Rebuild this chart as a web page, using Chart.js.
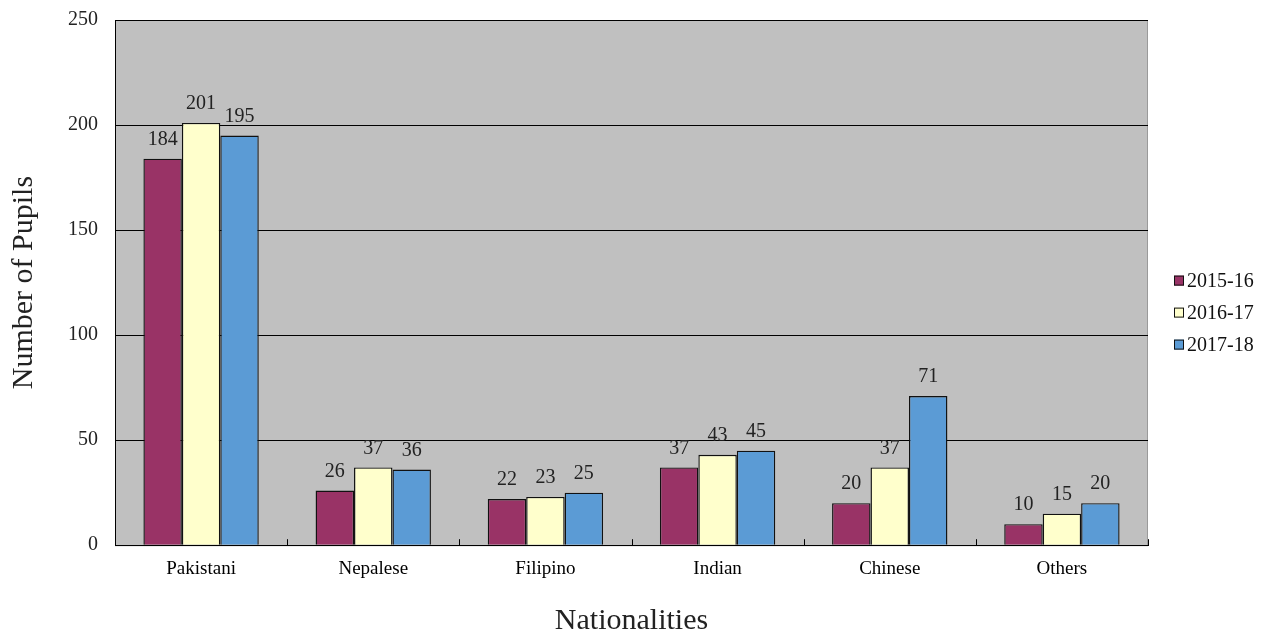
<!DOCTYPE html>
<html>
<head>
<meta charset="utf-8">
<script src="https://cdn.jsdelivr.net/npm/chart.js@4"></script>
<style>
  html, body { margin: 0; padding: 0; background: #fff; }
  #wrap { width: 1266px; height: 639px; }
</style>
</head>
<body>
<div id="wrap"><canvas id="pupilsChart"></canvas></div>
<script>
// categories and values
const nationalities = ['Pakistani', 'Nepalese', 'Filipino', 'Indian', 'Chinese', 'Others'];
const years = ['2015-16', '2016-17', '2017-18'];
const y2015 = [184, 26, 22, 37, 20, 10];
const y2016 = [201, 37, 23, 43, 37, 15];
const y2017 = [195, 36, 25, 45, 71, 20];
const yTicks = [0, 50, 100, 150, 200, 250];
const colors = ['#993366', '#ffffcc', '#5b9bd5'];

const FONT = "'Liberation Serif', 'DejaVu Serif', serif";

// gray plot area, category ticks, value labels and legend
const plotBg = {
    id: 'plotBg',
    beforeDraw(chart) {
        const { ctx, chartArea: a } = chart;
        ctx.save();
        ctx.fillStyle = '#c0c0c0';
        ctx.fillRect(a.left, a.top, a.right - a.left, a.bottom - a.top);
        ctx.strokeStyle = '#9a9a9a';
        ctx.lineWidth = 1;
        ctx.strokeRect(a.left + 0.5, a.top + 0.5, a.right - a.left - 1, a.bottom - a.top);
        ctx.restore();
    },
    afterDatasetsDraw(chart) {
        const { ctx, chartArea: a } = chart;
        ctx.save();
        ctx.strokeStyle = '#000';
        ctx.lineWidth = 1;
        const step = (a.right - a.left) / nationalities.length;
        for (let i = 1; i <= nationalities.length; i++) {
            const px = Math.round(a.left + step * i) + 0.5;
            ctx.beginPath();
            ctx.moveTo(px, a.bottom);
            ctx.lineTo(px, a.bottom - 6);
            ctx.stroke();
        }
        // value labels
        ctx.fillStyle = '#222';
        ctx.font = '20px ' + FONT;
        ctx.textAlign = 'center';
        ctx.textBaseline = 'bottom';
        chart.data.datasets.forEach((ds, i) => {
            chart.getDatasetMeta(i).data.forEach((bar, j) => {
                ctx.fillText(ds.data[j], bar.x, bar.y - 9);
            });
        });
        // legend
        const lx = a.right + 26;
        const mid = (a.top + a.bottom) / 2 + 30;
        ctx.textAlign = 'left';
        ctx.textBaseline = 'middle';
        ctx.font = '20px ' + FONT;
        years.forEach((yr, i) => {
            const cy = mid + (i - 1) * 32;
            ctx.fillStyle = colors[i];
            ctx.fillRect(lx, cy - 5, 10, 10);
            ctx.strokeStyle = '#111';
            ctx.strokeRect(lx + 0.5, cy - 4.5, 9, 9);
            ctx.fillStyle = '#111';
            ctx.fillText(yr, lx + 13, cy + 1);
        });
        ctx.restore();
    }
};

const data = {
    labels: nationalities,
    datasets: [y2015, y2016, y2017].map((vals, i) => ({
        label: years[i],
        data: vals,
        backgroundColor: colors[i],
        borderColor: '#111', borderWidth: 1.4, borderSkipped: 'bottom',
        categoryPercentage: 0.67, barPercentage: 1.0
    }))
};

const options = {
    responsive: true,
    maintainAspectRatio: false,
    animation: false,
    layout: { padding: { top: 6, right: 118, left: 6, bottom: 0 } },
    scales: {
        x: {
            grid: { display: false, drawTicks: false },
            border: { color: '#000', width: 1 },
            ticks: { color: '#000', padding: 12, font: { family: FONT, size: 19 } },
            title: {
                display: true, text: 'Nationalities', color: '#222',
                padding: { top: 11, bottom: 0 }, font: { family: FONT, size: 30 }
            }
        },
        y: {
            min: 0, max: 250,
            afterBuildTicks(axis) { axis.ticks = yTicks.map(v => ({ value: v })); },
            grid: { color: '#000', lineWidth: 1, drawTicks: true, tickLength: 9, tickColor: 'rgba(0,0,0,0)' },
            border: { color: '#000', width: 1 },
            ticks: { color: '#222', padding: 8, font: { family: FONT, size: 20 } },
            title: {
                display: true, text: 'Number of Pupils', color: '#222',
                padding: { top: 0, bottom: 18 }, font: { family: FONT, size: 30 }
            }
        }
    },
    plugins: {
        legend: { display: false },
        tooltip: { enabled: false }
    }
};

new Chart(document.getElementById('pupilsChart'), {
    type: 'bar',
    data: data,
    options: options,
    plugins: [plotBg]
});
</script>
</body>
</html>
